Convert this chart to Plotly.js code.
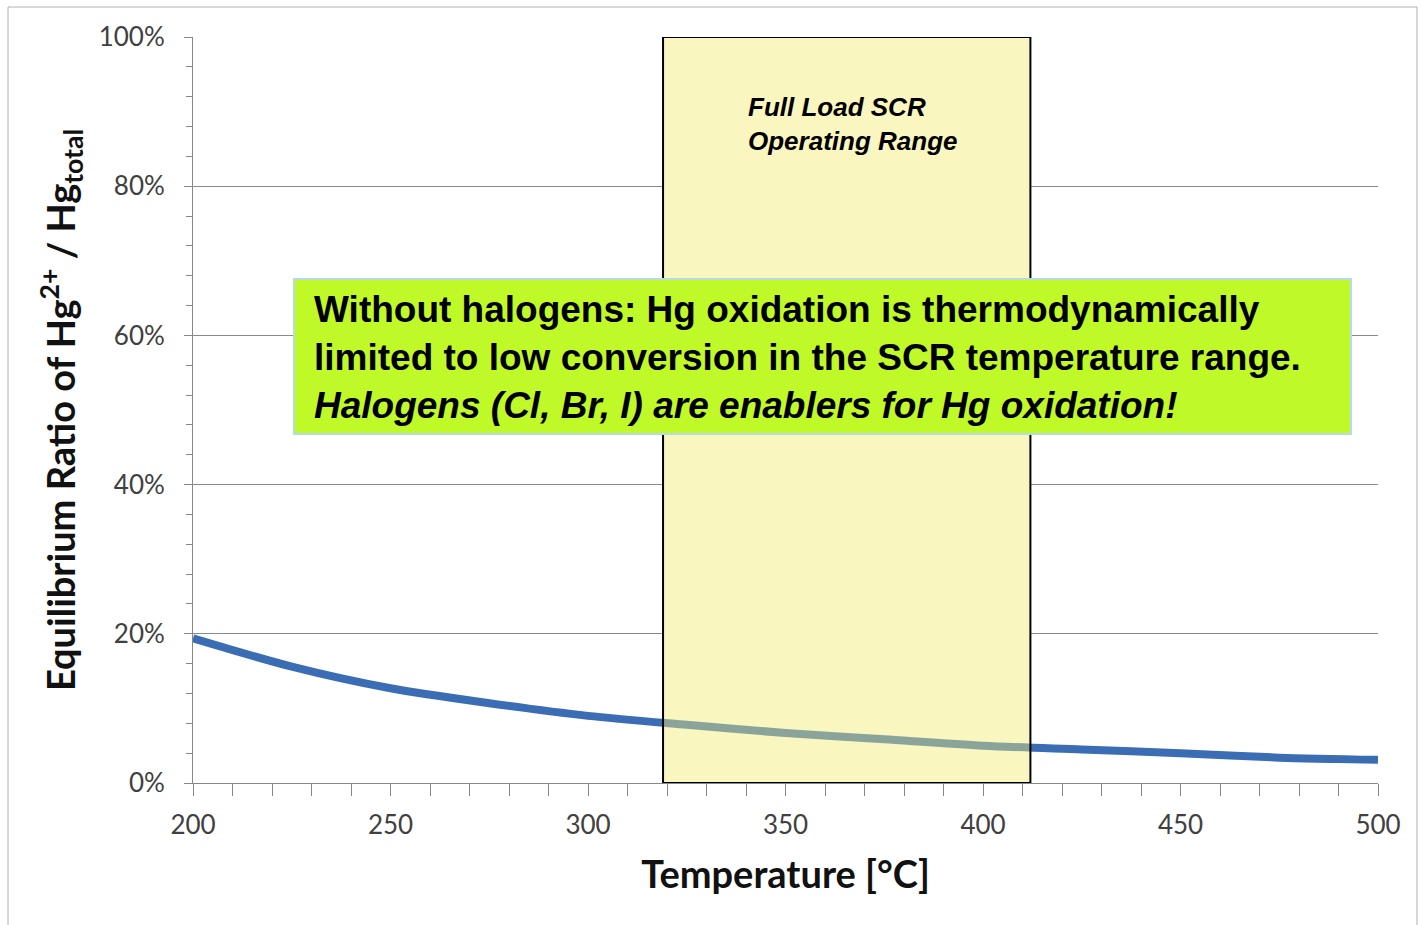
<!DOCTYPE html>
<html>
<head>
<meta charset="utf-8">
<script src="https://cdn.plot.ly/plotly-3.0.1.min.js"></script>
<style>html,body{margin:0;padding:0;background:#fff;}#chart{width:1421px;height:925px;}</style>
</head>
<body>
<div id="chart"></div>
<script>
// Data
const temperature = [200, 225, 250, 275, 300, 325, 350, 375, 400, 425, 450, 475, 500];
const equilibriumRatio = [0.194, 0.156, 0.127, 0.107, 0.090, 0.078, 0.067, 0.0585, 0.050, 0.045, 0.040, 0.034, 0.031];
const scrRange = [319, 412];
const xTitle = 'Temperature [°C]';
const yTitle = 'Equilibrium Ratio of Hg<sup>2+</sup> / Hg<sub>total</sub>';
const rangeLabel = '<b><i>Full Load SCR<br>Operating Range</i></b>';
const calloutText = '<b>Without halogens: Hg oxidation is thermodynamically<br>limited to low conversion in the SCR temperature range.<br><i>Halogens (Cl, Br, I) are enablers for Hg oxidation!</i></b>';

const trace = {
  x: temperature,
  y: equilibriumRatio,
  type: 'scatter',
  mode: 'lines',
  line: {color: '#3a6db4', width: 8, shape: 'spline', smoothing: 0.8},
  hoverinfo: 'x+y',
  showlegend: false
};

const axisFont = {family: 'Lato, "Open Sans", sans-serif', size: 26, color: '#404040'};

const layout = {
  width: 1421,
  height: 925,
  margin: {l: 193, r: 43, t: 37, b: 142},
  paper_bgcolor: '#ffffff',
  plot_bgcolor: '#ffffff',
  showlegend: false,
  xaxis: {
    range: [200, 500],
    dtick: 50,
    tick0: 200,
    ticks: 'outside',
    ticklen: 12,
    tickcolor: '#878787',
    tickwidth: 1,
    minor: {dtick: 10, ticks: 'outside', ticklen: 12, tickcolor: '#878787', tickwidth: 1, showgrid: false},
    showgrid: false,
    zeroline: false,
    showline: true,
    linecolor: '#878787',
    linewidth: 1,
    tickfont: axisFont,
    ticklabelstandoff: 7,
    title: {text: '<b>' + xTitle + '</b>', font: {family: 'Lato, "Open Sans", sans-serif', size: 38, color: '#111'}, standoff: 22}
  },
  yaxis: {
    range: [0, 1],
    dtick: 0.2,
    tick0: 0,
    tickformat: '.0%',
    ticks: 'outside',
    ticklen: 8,
    tickcolor: '#878787',
    tickwidth: 1,
    minor: {dtick: 0.04, ticks: 'outside', ticklen: 6, tickcolor: '#878787', tickwidth: 1, showgrid: false},
    showgrid: true,
    gridcolor: '#8a8a8a',
    gridwidth: 1,
    zeroline: false,
    showline: true,
    linecolor: '#878787',
    linewidth: 1,
    tickfont: axisFont,
    ticklabelstandoff: 14,
    title: {text: '<b>' + yTitle + '</b>', font: {family: 'Lato, "Open Sans", sans-serif', size: 38, color: '#111'}, standoff: 11}
  },
  shapes: [
    // opaque base of the SCR range (hides gridlines)
    {type: 'rect', xref: 'x', yref: 'y', x0: scrRange[0], x1: scrRange[1], y0: 0, y1: 1,
     fillcolor: '#fafaf3', line: {width: 0}, layer: 'between'},
    // translucent yellow tint on top, with black border
    {type: 'rect', xref: 'x', yref: 'y', x0: scrRange[0], x1: scrRange[1], y0: 0, y1: 1,
     fillcolor: 'rgba(250,240,120,0.42)', line: {color: '#000000', width: 2}, layer: 'above'},
    // green callout box
    {type: 'rect', xref: 'paper', yref: 'paper', x0: 0.0852, x1: 0.9772, y0: 0.4678, y1: 0.6756,
     fillcolor: '#bff928', line: {color: '#b7dbe6', width: 2}, layer: 'above'},
    // outer frame
    {type: 'rect', xref: 'paper', yref: 'paper', x0: -0.1561, x1: 1.0329, y0: -0.25, y1: 1.0402,
     fillcolor: 'rgba(0,0,0,0)', line: {color: '#b0b0b0', width: 1}, layer: 'below'}
  ],
  annotations: [
    {xref: 'paper', yref: 'paper', x: 0.4667, y: 0.883, xanchor: 'left', yanchor: 'middle', align: 'left',
     text: rangeLabel, showarrow: false,
     font: {family: '"Liberation Sans", Arial, sans-serif', size: 26, color: '#000'}},
    {xref: 'paper', yref: 'paper', x: 0.1005, y: 0.571, xanchor: 'left', yanchor: 'middle', align: 'left',
     text: calloutText, showarrow: false,
     font: {family: '"Liberation Sans", Arial, sans-serif', size: 37, color: '#000'}}
  ]
};

Plotly.newPlot('chart', [trace], layout, {displayModeBar: false, staticPlot: true});
</script>
</body>
</html>
